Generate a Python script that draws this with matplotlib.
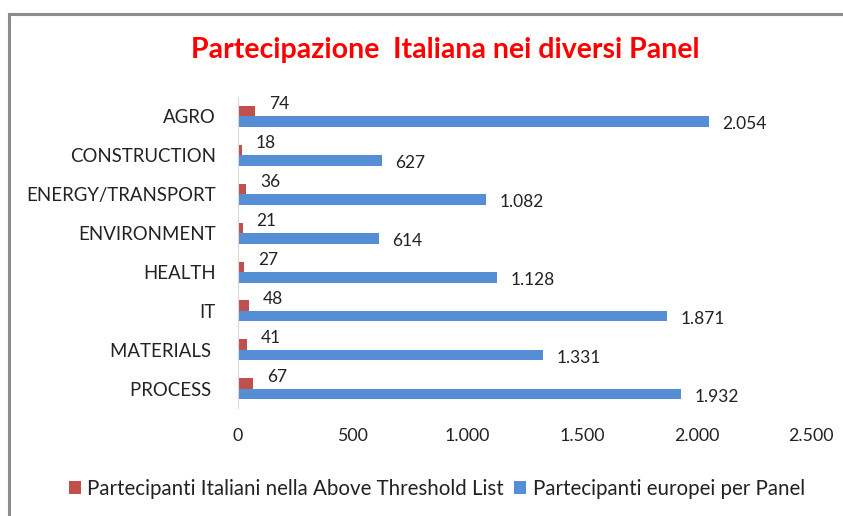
import matplotlib.pyplot as plt
from matplotlib.lines import Line2D
from matplotlib.ticker import FuncFormatter
import numpy as np

# ================= Data =================
panels = ['AGRO', 'CONSTRUCTION', 'ENERGY/TRANSPORT', 'ENVIRONMENT',
          'HEALTH', 'IT', 'MATERIALS ', 'PROCESS ']
italiani = [74, 18, 36, 21, 27, 48, 41, 67]
europei = [2054, 627, 1082, 614, 1128, 1871, 1331, 1932]
x_ticks = [0, 500, 1000, 1500, 2000, 2500]

RED = '#C0504D'
BLUE = '#558ED5'
FONT = 'Lato'
TXT = '#222222'


def fmt(v):
    return f'{int(v):,}'.replace(',', '.')


fig = plt.figure(figsize=(8.43, 5.16), dpi=100)
ax = fig.add_axes([0.2823, 0.209, 0.962 - 0.2823, 0.812 - 0.209])

y = np.arange(len(panels))
h = 0.27
ax.barh(y - h / 2, italiani, height=h, color=RED,
        label='Partecipanti Italiani nella Above Threshold List')
ax.barh(y + h / 2, europei, height=h, color=BLUE,
        label='Partecipanti europei per Panel')

for yi, v in zip(y, italiani):
    ax.annotate(fmt(v), (v, yi - h / 2), xytext=(10, 5), textcoords='offset points',
                ha='left', va='center', fontsize=12.5, family=FONT, color=TXT)
for yi, v in zip(y, europei):
    ax.annotate(fmt(v), (v, yi + h / 2), xytext=(10, -2), textcoords='offset points',
                ha='left', va='center', fontsize=12.5, family=FONT, color=TXT)

ax.set_ylim(len(panels) - 0.5, -0.5)
ax.set_xlim(0, 2500)
ax.set_yticks(y)
ax.set_yticklabels(panels, fontsize=13.4, family=FONT, color=TXT)
ax.set_xticks(x_ticks)
ax.xaxis.set_major_formatter(FuncFormatter(lambda v, p: fmt(v)))
for lab in ax.get_xticklabels():
    lab.set_family(FONT)
    lab.set_fontsize(12.8)
    lab.set_color(TXT)
ax.tick_params(axis='both', length=0)
ax.tick_params(axis='y', pad=16)
ax.tick_params(axis='x', pad=14)

for s in ['top', 'right', 'bottom']:
    ax.spines[s].set_visible(False)
ax.spines['left'].set_color('#D9D9D9')

fig.text(0.528, 0.903, 'Partecipazione  Italiana nei diversi Panel',
         ha='center', va='center', color='#FF0000', fontsize=20.5,
         fontweight='bold', family=['Liberation Sans Narrow', FONT])

leg = fig.legend(loc='center', bbox_to_anchor=(0.518, 0.052), ncol=2, frameon=False,
                 handlelength=0.6, handleheight=0.6, handletextpad=0.3, columnspacing=0.5,
                 prop={'family': FONT, 'size': 14.8})
for t in leg.get_texts():
    t.set_color(TXT)

# outer frame (left and top edges visible)
fig.add_artist(Line2D([9 / 843, 9 / 843], [0, 1 - 14 / 516], color='#8C8C8C', lw=2.2,
                      transform=fig.transFigure))
fig.add_artist(Line2D([9 / 843, 1], [1 - 14 / 516, 1 - 14 / 516], color='#8C8C8C', lw=2.2,
                      transform=fig.transFigure))

fig.savefig('out.png', dpi=100)
